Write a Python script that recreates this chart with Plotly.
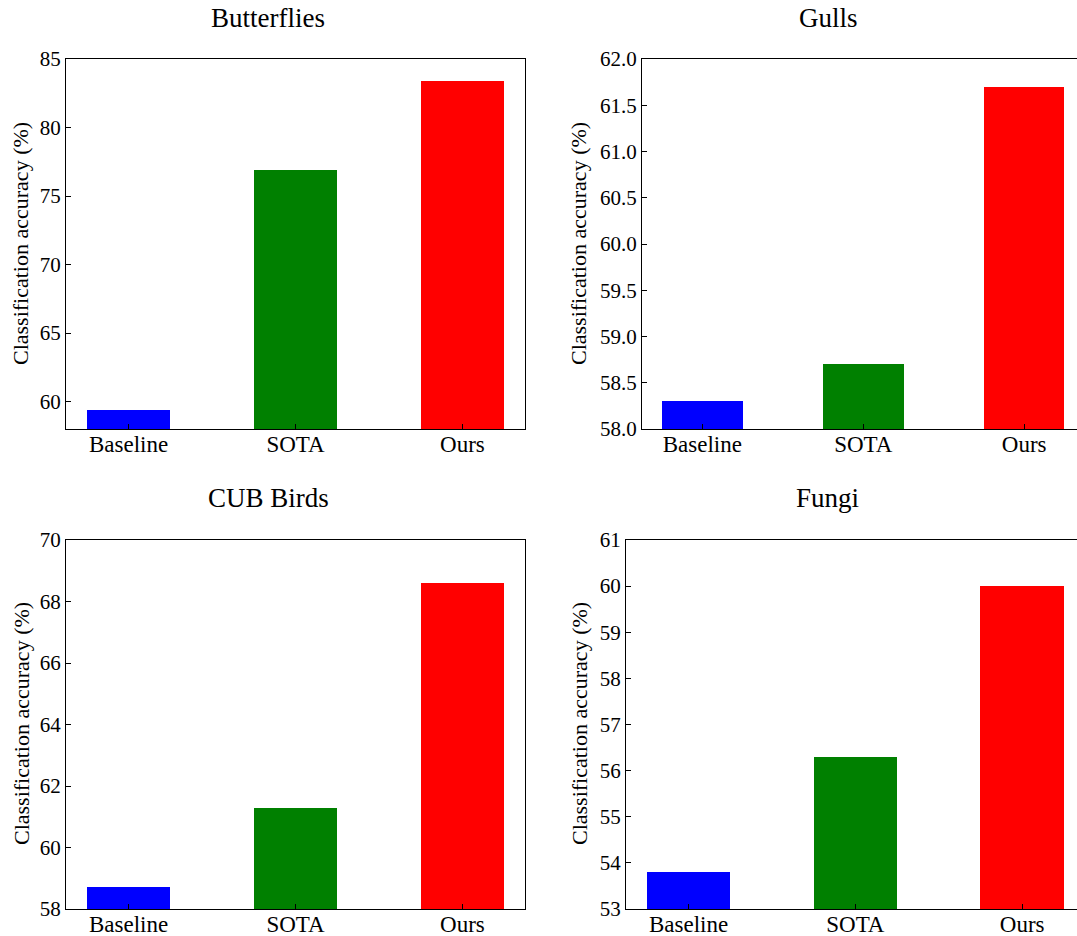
import plotly.graph_objects as go

categories = ["Baseline", "SOTA", "Ours"]
bar_colors = ["blue", "green", "red"]

titles = ["Butterflies", "Gulls", "CUB Birds", "Fungi"]
butterflies = [59.4, 76.9, 83.4]
gulls = [58.3, 58.7, 61.7]
cub_birds = [58.7, 61.3, 68.6]
fungi = [53.8, 56.3, 60.0]
series = [butterflies, gulls, cub_birds, fungi]

y_ranges = [[58, 85], [58, 62], [58, 70], [53, 61]]
y_dticks = [5, 0.5, 2, 1]
y_formats = ["d", ".1f", "d", "d"]

W, H = 1077, 936
# pixel boxes of each panel: (left, right, top, bottom)
boxes = [(66, 525, 59, 429), (642, 1077, 59, 429), (66, 525, 540, 909), (626, 1077, 540, 909)]
# x data ranges (right panels cropped on the right)
x_ranges = [[-0.375, 2.375], [-0.375, 2.328], [-0.375, 2.375], [-0.375, 2.329]]
title_pos = [(268, 18), (828, 18), (268, 498), (827, 498)]
ylabel_pos = [(21, 244), (579, 244), (21, 724), (579, 724)]

FONT = "Liberation Serif, Times New Roman, serif"

fig = go.Figure()
annotations = []
for i in range(4):
    ax = "" if i == 0 else str(i + 1)
    fig.add_trace(go.Bar(
        x=list(range(len(categories))), y=series[i],
        marker=dict(color=bar_colors, line=dict(width=0)),
        width=0.5, xaxis="x" + ax, yaxis="y" + ax, showlegend=False,
        hoverinfo="skip",
    ))
    l, r, t, b = boxes[i]
    right_panel = i in (1, 3)
    fig.update_layout(**{
        "xaxis" + ax: dict(
            domain=[l / W, r / W], anchor="y" + ax, range=x_ranges[i],
            tickvals=list(range(len(categories))), ticktext=categories,
            ticks="inside", ticklen=5, tickwidth=1, tickcolor="black",
            showline=True, linecolor="black", linewidth=1, mirror=True,
            showgrid=False, zeroline=False, automargin=False,
            ticklabelstandoff=-6,
            tickfont=dict(family=FONT, size=23, color="black"),
        ),
        "yaxis" + ax: dict(
            domain=[1 - b / H, 1 - t / H], anchor="x" + ax, range=y_ranges[i],
            dtick=y_dticks[i], tick0=0, tickformat=y_formats[i],
            ticks="inside", ticklen=5, tickwidth=1, tickcolor="black",
            showline=True, linecolor="black", linewidth=1,
            mirror=(not right_panel),
            showgrid=False, zeroline=False, automargin=False,
            tickfont=dict(family=FONT, size=21, color="black"),
        ),
    })
    tx, ty = title_pos[i]
    annotations.append(dict(
        text=titles[i], x=tx / W, y=1 - ty / H, xref="paper", yref="paper",
        xanchor="center", yanchor="middle", showarrow=False,
        font=dict(family=FONT, size=27, color="black"),
    ))
    lx, ly = ylabel_pos[i]
    annotations.append(dict(
        text="Classification accuracy (%)", x=lx / W, y=1 - ly / H,
        xref="paper", yref="paper", xanchor="center", yanchor="middle",
        textangle=-90, showarrow=False,
        font=dict(family=FONT, size=22, color="black"),
    ))

fig.update_layout(
    width=W, height=H,
    margin=dict(l=0, r=0, t=0, b=0, autoexpand=False),
    paper_bgcolor="white", plot_bgcolor="white",
    annotations=annotations,
    bargap=0,
)

fig.write_html("out.html", config={"displayModeBar": False})

# remove the default page margin so the figure sits at the window origin
with open("out.html", "r", encoding="utf-8") as f:
    html = f.read()
html = html.replace("<head>", "<head><style>html,body{margin:0;padding:0;overflow:hidden;}</style>", 1)
with open("out.html", "w", encoding="utf-8") as f:
    f.write(html)
